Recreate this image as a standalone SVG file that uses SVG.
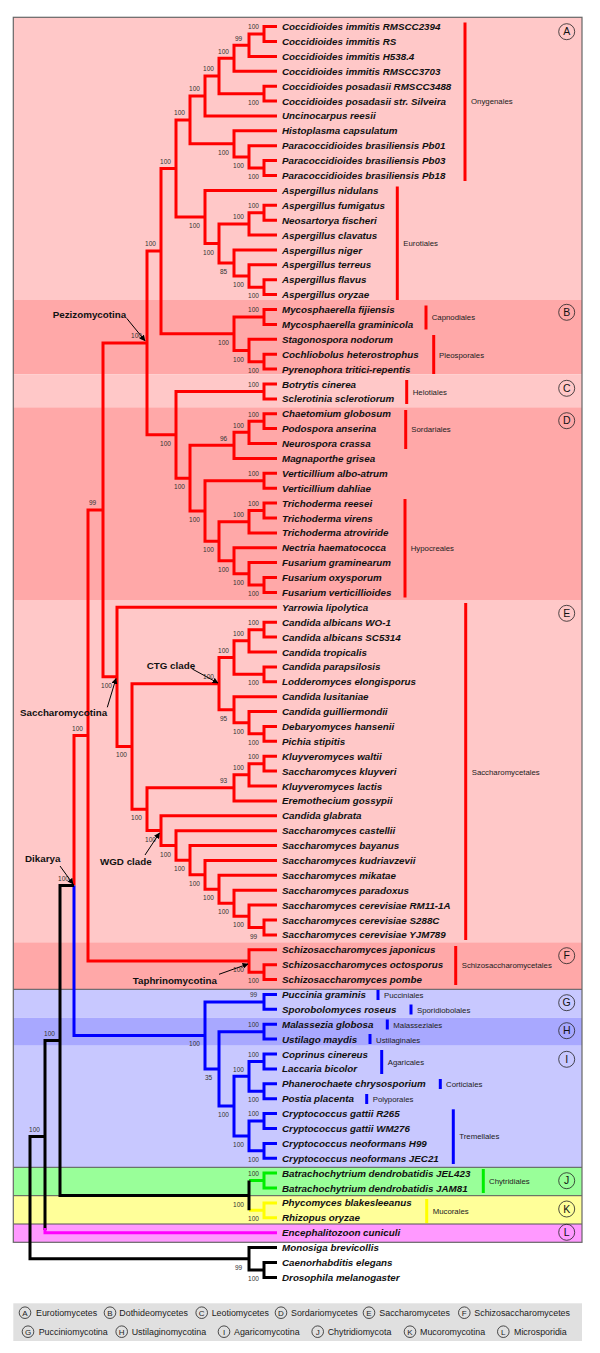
<svg xmlns="http://www.w3.org/2000/svg" width="600" height="1353" viewBox="0 0 600 1353">
<defs>
<style>
.t{font-family:"Liberation Sans",Arial,sans-serif;font-size:9.8px;font-weight:bold;font-style:italic;fill:#111}
.b{font-family:"Liberation Sans",Arial,sans-serif;font-size:6.5px;fill:#333;text-anchor:middle}
.o{font-family:"Liberation Sans",Arial,sans-serif;font-size:7.8px;fill:#222}
.c{font-family:"Liberation Sans",Arial,sans-serif;font-size:9.8px;font-weight:bold;fill:#111}
.lg{font-family:"Liberation Sans",Arial,sans-serif;font-size:8.9px;fill:#222}
.cl{font-family:"Liberation Sans",Arial,sans-serif;font-size:10.5px;fill:#111;text-anchor:middle}
.cs{font-family:"Liberation Sans",Arial,sans-serif;font-size:8px;fill:#222;text-anchor:middle}
.ci{fill:none;stroke:#222;stroke-width:0.8}
.r{fill:none;stroke:#ff0000;stroke-width:3}
.u{fill:none;stroke:#0000ff;stroke-width:3}
.k{fill:none;stroke:#000;stroke-width:3}
.g{fill:none;stroke:#00ee00;stroke-width:3}
.y{fill:none;stroke:#ffff00;stroke-width:3}
.m{fill:none;stroke:#ff00ff;stroke-width:3}
.ar{fill:none;stroke:#000;stroke-width:1;marker-end:url(#ah)}
</style>
<marker id="ah" viewBox="0 0 10 10" refX="9" refY="5" markerWidth="6" markerHeight="6" orient="auto" markerUnits="userSpaceOnUse"><path d="M0,0 L10,5 L0,10 z" fill="#000"/></marker>
</defs>
<rect width="600" height="1353" fill="#fff"/>
<g id="bands">
<rect x="13.3" y="17.3" width="568.7" height="282.7" fill="#ffc8c8"/>
<rect x="13.3" y="300" width="568.7" height="74.3" fill="#ffa8a8"/>
<rect x="13.3" y="374.3" width="568.7" height="33" fill="#ffc8c8"/>
<rect x="13.3" y="407.3" width="568.7" height="192.7" fill="#ffa8a8"/>
<rect x="13.3" y="600" width="568.7" height="342.3" fill="#ffc8c8"/>
<rect x="13.3" y="942.3" width="568.7" height="47" fill="#ffa8a8"/>
<rect x="13.3" y="989.3" width="568.7" height="28.4" fill="#c8c8ff"/>
<rect x="13.3" y="1017.7" width="568.7" height="28" fill="#a8a8ff"/>
<rect x="13.3" y="1045.7" width="568.7" height="121.6" fill="#c8c8ff"/>
<rect x="13.3" y="1167.3" width="568.7" height="28.4" fill="#99ff99"/>
<rect x="13.3" y="1195.7" width="568.7" height="28.3" fill="#ffff99"/>
<rect x="13.3" y="1224" width="568.7" height="18.3" fill="#ff99ff"/>
<g stroke="#555" stroke-width="1">
<line x1="13.3" y1="989.3" x2="582" y2="989.3"/>
<line x1="13.3" y1="1167.3" x2="582" y2="1167.3"/>
<line x1="13.3" y1="1195.7" x2="582" y2="1195.7"/>
<line x1="13.3" y1="1224" x2="582" y2="1224"/>
</g>
<rect x="13.3" y="17.3" width="568.7" height="1225" fill="none" stroke="#666" stroke-width="1.2"/>
<g id="band-labels">
<circle class="ci" cx="566.7" cy="31.7" r="8"/><text class="cl" x="566.7" y="35.4">A</text>
<circle class="ci" cx="566.7" cy="312.3" r="8"/><text class="cl" x="566.7" y="316">B</text>
<circle class="ci" cx="566.7" cy="388.3" r="8"/><text class="cl" x="566.7" y="392">C</text>
<circle class="ci" cx="566.7" cy="420.7" r="8"/><text class="cl" x="566.7" y="424.4">D</text>
<circle class="ci" cx="566.7" cy="613.3" r="8"/><text class="cl" x="566.7" y="617">E</text>
<circle class="ci" cx="566.7" cy="955.7" r="8"/><text class="cl" x="566.7" y="959.4">F</text>
<circle class="ci" cx="566.7" cy="1002.7" r="8"/><text class="cl" x="566.7" y="1006.4">G</text>
<circle class="ci" cx="566.7" cy="1030.7" r="8"/><text class="cl" x="566.7" y="1034.4">H</text>
<circle class="ci" cx="566.7" cy="1059.3" r="8"/><text class="cl" x="566.7" y="1063">I</text>
<circle class="ci" cx="566.7" cy="1180.7" r="8"/><text class="cl" x="566.7" y="1184.4">J</text>
<circle class="ci" cx="566.7" cy="1209" r="8"/><text class="cl" x="566.7" y="1212.7">K</text>
<circle class="ci" cx="566.7" cy="1232.3" r="8"/><text class="cl" x="566.7" y="1236">L</text>
</g>
</g>
<g id="connectors">
<path class="r" d="M277 26.6H264V41.5H277M264 34.05H249V56.4H277M249 45.2H234V71.3H277M277 86.2H264V101.1H277M234 58.3H219V93.65H264M219 76H205V115.9H277M277 160.6H264V175.5H277M277 145.7H249V168.05H264M277 130.8H234V156.9H249M205 95.95H190V143.85H234M277 205.3H264V220.2H277M264 212.75H249V235.1H277M277 279.7H264V294.6H277M277 264.8H249V287.15H264M277 250H234V276H249M249 223.9H219V263H234M277 190.4H205V243.45H219M190 119.9H176V216.9H205"/>
<path class="r" d="M277 309.5H264V324.4H277M277 354.2H264V369.1H277M277 339.3H249V361.65H264M264 316.95H234V350.5H249M176 168.4H161V333.7H234"/>
<path class="r" d="M277 384H264V398.9H277M277 413.7H264V428.6H277M264 421.15H249V443.5H277M249 432.3H234V458.4H277M277 473.3H264V488.2H277M277 503.1H264V518H277M264 510.55H249V532.9H277M277 577.5H264V592.4H277M277 562.6H249V584.95H264M277 547.8H234V573.8H249M249 521.7H219V560.8H234M264 480.75H205V541.25H219M234 445.35H190V511H205M264 391.45H176V478.2H190M161 251.05H147V434.8H176"/>
<path class="r" d="M277 622.2H264V637.1H277M264 629.65H249V652H277M277 666.9H264V681.8H277M249 640.8H234V674.35H264M277 726.4H264V741.3H277M277 711.5H249V733.85H264M277 696.7H234V722.7H249M234 657.6H219V709.7H234M277 756.2H264V771.1H277M264 763.65H249V786H277M249 774.8H234V800.9H277"/>
<path class="r" d="M277 920H264V934.9H277M277 905.1H249V927.45H264M277 890.2H234V916.3H249M277 875.3H219V903.25H234M277 860.4H205V889.3H219M277 845.6H190V874.85H205M277 830.7H176V860.2H190M277 815.8H161V845.45H176M234 787.85H147V830.6H161M219 683.65H132V809.2H147M277 607.3H117V746.4H132M147 342.9H103V676.85H117"/>
<path class="r" d="M277 964.7H264V979.6H277M277 949.8H249V972.15H264M103 509.9H88V960.95H249M88 735.4H74V885.4"/>
<path class="u" d="M74 885.4V1035.4H205M277 994.5H264V1009.3H277M277 1024.2H264V1039.1H277M277 1054H264V1068.9H277M277 1083.8H264V1098.7H277M264 1061.45H249V1091.25H264M277 1113.6H264V1128.5H277M277 1143.4H264V1158.2H277M264 1121.05H249V1150.8H264M249 1076.35H234V1135.9H249M264 1031.65H219V1106.1H234M264 1001.9H205V1068.9H219"/>
<path class="g" d="M249 1180.55H264M277 1173.1H264V1188H277"/>
<path class="y" d="M249 1210.35H264M277 1202.9H264V1217.8H277"/>
<path class="k" d="M74 885.4H60V1195.45H249M249 1180.55V1210.35M60 1040.4H45V1230M45 1136.55H30V1258.8H249M277 1247.6H249V1269.95H264M277 1262.5H264V1277.4H277"/>
<path class="m" d="M45 1228V1232.7H277"/>
</g>
<g id="support">
<text class="b" x="253.5" y="29.4">100</text>
<text class="b" x="238.5" y="40.5">99</text>
<text class="b" x="223.5" y="53.6">100</text>
<text class="b" x="253.5" y="104.7">100</text>
<text class="b" x="208.5" y="71.3">100</text>
<text class="b" x="194.5" y="91.3">100</text>
<text class="b" x="253.5" y="179.1">100</text>
<text class="b" x="238.5" y="167.9">100</text>
<text class="b" x="223.5" y="154.9">100</text>
<text class="b" x="179.5" y="115.2">100</text>
<text class="b" x="253.5" y="208.1">100</text>
<text class="b" x="238.5" y="219.2">100</text>
<text class="b" x="253.5" y="298.2">100</text>
<text class="b" x="238.5" y="287">100</text>
<text class="b" x="223.5" y="274">85</text>
<text class="b" x="208.5" y="254.5">100</text>
<text class="b" x="194.5" y="227.9">100</text>
<text class="b" x="165.5" y="163.7">100</text>
<text class="b" x="253.5" y="312.3">100</text>
<text class="b" x="253.5" y="372.7">100</text>
<text class="b" x="238.5" y="361.5">100</text>
<text class="b" x="223.5" y="344.7">100</text>
<text class="b" x="150.5" y="246.4">100</text>
<text class="b" x="253.5" y="386.8">100</text>
<text class="b" x="253.5" y="416.5">100</text>
<text class="b" x="238.5" y="427.6">100</text>
<text class="b" x="223.5" y="440.7">96</text>
<text class="b" x="253.5" y="476.1">100</text>
<text class="b" x="253.5" y="505.9">100</text>
<text class="b" x="238.5" y="517">100</text>
<text class="b" x="253.5" y="596">100</text>
<text class="b" x="238.5" y="584.8">100</text>
<text class="b" x="223.5" y="571.8">100</text>
<text class="b" x="208.5" y="552.3">100</text>
<text class="b" x="194.5" y="522">100</text>
<text class="b" x="179.5" y="489.2">100</text>
<text class="b" x="165.5" y="445.8">100</text>
<text class="b" x="136.5" y="338.2">100</text>
<text class="b" x="253.5" y="625">100</text>
<text class="b" x="238.5" y="636.1">100</text>
<text class="b" x="253.5" y="685.4">100</text>
<text class="b" x="223.5" y="652.9">100</text>
<text class="b" x="253.5" y="744.9">100</text>
<text class="b" x="238.5" y="733.7">100</text>
<text class="b" x="223.5" y="720.7">95</text>
<text class="b" x="208.5" y="679">100</text>
<text class="b" x="253.5" y="759">100</text>
<text class="b" x="238.5" y="770.1">100</text>
<text class="b" x="223.5" y="783.2">93</text>
<text class="b" x="253.5" y="938.5">99</text>
<text class="b" x="238.5" y="927.3">100</text>
<text class="b" x="223.5" y="914.3">100</text>
<text class="b" x="208.5" y="900.3">100</text>
<text class="b" x="194.5" y="885.9">100</text>
<text class="b" x="179.5" y="871.2">100</text>
<text class="b" x="165.5" y="856.5">100</text>
<text class="b" x="150.5" y="841.6">100</text>
<text class="b" x="136.5" y="820.2">100</text>
<text class="b" x="121.5" y="757.4">100</text>
<text class="b" x="106.5" y="687.9">100</text>
<text class="b" x="92.5" y="505.2">99</text>
<text class="b" x="253.5" y="983.2">100</text>
<text class="b" x="238.5" y="972">100</text>
<text class="b" x="77.5" y="730.7">100</text>
<text class="b" x="253.5" y="997.2">99</text>
<text class="b" x="253.5" y="1027">100</text>
<text class="b" x="253.5" y="1056.8">100</text>
<text class="b" x="253.5" y="1102.3">100</text>
<text class="b" x="238.5" y="1071.7">100</text>
<text class="b" x="253.5" y="1116.4">100</text>
<text class="b" x="253.5" y="1161.8">100</text>
<text class="b" x="238.5" y="1146.9">100</text>
<text class="b" x="223.5" y="1117.1">100</text>
<text class="b" x="208.5" y="1079.9">35</text>
<text class="b" x="194.5" y="1046.4">100</text>
<text class="b" x="63.5" y="880.7">100</text>
<text class="b" x="253.5" y="1175.9">100</text>
<text class="b" x="253.5" y="1221.4">100</text>
<text class="b" x="238.5" y="1206.5">100</text>
<text class="b" x="49.5" y="1035.7">100</text>
<text class="b" x="34.5" y="1131.9">100</text>
<text class="b" x="253.5" y="1281">100</text>
<text class="b" x="238.5" y="1269.8">99</text>
</g>
<g id="clade-labels">
<g id="pezizomycotina"><text class="c" x="52.7" y="317.5">Pezizomycotina</text><path class="ar" d="M126.7 318.3L145 340.7"/></g>
<g id="saccharomycotina"><text class="c" x="20" y="715.8">Saccharomycotina</text><path class="ar" d="M107.3 707.3L116 678.5"/></g>
<g id="ctg"><text class="c" x="146.7" y="668.5">CTG clade</text><path class="ar" d="M192.3 669L218 683"/></g>
<g id="wgd"><text class="c" x="100" y="865.2">WGD clade</text><path class="ar" d="M145 855L159.5 833"/></g>
<g id="dikarya"><text class="c" x="25" y="861.8">Dikarya</text><path class="ar" d="M60 866L73 884"/></g>
<g id="taphrinomycotina"><text class="c" x="132.7" y="983.5">Taphrinomycotina</text><path class="ar" d="M219 974.3L248 964"/></g>
</g>
<g id="taxa">
<g id="taxon-0"><text class="t" x="282" y="30.1">Coccidioides immitis RMSCC2394</text></g>
<g id="taxon-1"><text class="t" x="282" y="45">Coccidioides immitis RS</text></g>
<g id="taxon-2"><text class="t" x="282" y="59.9">Coccidioides immitis H538.4</text></g>
<g id="taxon-3"><text class="t" x="282" y="74.8">Coccidioides immitis RMSCC3703</text></g>
<g id="taxon-4"><text class="t" x="282" y="89.7">Coccidioides posadasii RMSCC3488</text></g>
<g id="taxon-5"><text class="t" x="282" y="104.6">Coccidioides posadasii str. Silveira</text></g>
<g id="taxon-6"><text class="t" x="282" y="119.4">Uncinocarpus reesii</text></g>
<g id="taxon-7"><text class="t" x="282" y="134.3">Histoplasma capsulatum</text></g>
<g id="taxon-8"><text class="t" x="282" y="149.2">Paracoccidioides brasiliensis Pb01</text></g>
<g id="taxon-9"><text class="t" x="282" y="164.1">Paracoccidioides brasiliensis Pb03</text></g>
<g id="taxon-10"><text class="t" x="282" y="179">Paracoccidioides brasiliensis Pb18</text></g>
<g id="taxon-11"><text class="t" x="282" y="193.9">Aspergillus nidulans</text></g>
<g id="taxon-12"><text class="t" x="282" y="208.8">Aspergillus fumigatus</text></g>
<g id="taxon-13"><text class="t" x="282" y="223.7">Neosartorya fischeri</text></g>
<g id="taxon-14"><text class="t" x="282" y="238.6">Aspergillus clavatus</text></g>
<g id="taxon-15"><text class="t" x="282" y="253.5">Aspergillus niger</text></g>
<g id="taxon-16"><text class="t" x="282" y="268.3">Aspergillus terreus</text></g>
<g id="taxon-17"><text class="t" x="282" y="283.2">Aspergillus flavus</text></g>
<g id="taxon-18"><text class="t" x="282" y="298.1">Aspergillus oryzae</text></g>
<g id="taxon-19"><text class="t" x="282" y="313">Mycosphaerella fijiensis</text></g>
<g id="taxon-20"><text class="t" x="282" y="327.9">Mycosphaerella graminicola</text></g>
<g id="taxon-21"><text class="t" x="282" y="342.8">Stagonospora nodorum</text></g>
<g id="taxon-22"><text class="t" x="282" y="357.7">Cochliobolus heterostrophus</text></g>
<g id="taxon-23"><text class="t" x="282" y="372.6">Pyrenophora tritici-repentis</text></g>
<g id="taxon-24"><text class="t" x="282" y="387.5">Botrytis cinerea</text></g>
<g id="taxon-25"><text class="t" x="282" y="402.4">Sclerotinia sclerotiorum</text></g>
<g id="taxon-26"><text class="t" x="282" y="417.2">Chaetomium globosum</text></g>
<g id="taxon-27"><text class="t" x="282" y="432.1">Podospora anserina</text></g>
<g id="taxon-28"><text class="t" x="282" y="447">Neurospora crassa</text></g>
<g id="taxon-29"><text class="t" x="282" y="461.9">Magnaporthe grisea</text></g>
<g id="taxon-30"><text class="t" x="282" y="476.8">Verticillium albo-atrum</text></g>
<g id="taxon-31"><text class="t" x="282" y="491.7">Verticillium dahliae</text></g>
<g id="taxon-32"><text class="t" x="282" y="506.6">Trichoderma reesei</text></g>
<g id="taxon-33"><text class="t" x="282" y="521.5">Trichoderma virens</text></g>
<g id="taxon-34"><text class="t" x="282" y="536.4">Trichoderma atroviride</text></g>
<g id="taxon-35"><text class="t" x="282" y="551.3">Nectria haematococca</text></g>
<g id="taxon-36"><text class="t" x="282" y="566.1">Fusarium graminearum</text></g>
<g id="taxon-37"><text class="t" x="282" y="581">Fusarium oxysporum</text></g>
<g id="taxon-38"><text class="t" x="282" y="595.9">Fusarium verticillioides</text></g>
<g id="taxon-39"><text class="t" x="282" y="610.8">Yarrowia lipolytica</text></g>
<g id="taxon-40"><text class="t" x="282" y="625.7">Candida albicans WO-1</text></g>
<g id="taxon-41"><text class="t" x="282" y="640.6">Candida albicans SC5314</text></g>
<g id="taxon-42"><text class="t" x="282" y="655.5">Candida tropicalis</text></g>
<g id="taxon-43"><text class="t" x="282" y="670.4">Candida parapsilosis</text></g>
<g id="taxon-44"><text class="t" x="282" y="685.3">Lodderomyces elongisporus</text></g>
<g id="taxon-45"><text class="t" x="282" y="700.2">Candida lusitaniae</text></g>
<g id="taxon-46"><text class="t" x="282" y="715">Candida guilliermondii</text></g>
<g id="taxon-47"><text class="t" x="282" y="729.9">Debaryomyces hansenii</text></g>
<g id="taxon-48"><text class="t" x="282" y="744.8">Pichia stipitis</text></g>
<g id="taxon-49"><text class="t" x="282" y="759.7">Kluyveromyces waltii</text></g>
<g id="taxon-50"><text class="t" x="282" y="774.6">Saccharomyces kluyveri</text></g>
<g id="taxon-51"><text class="t" x="282" y="789.5">Kluyveromyces lactis</text></g>
<g id="taxon-52"><text class="t" x="282" y="804.4">Eremothecium gossypii</text></g>
<g id="taxon-53"><text class="t" x="282" y="819.3">Candida glabrata</text></g>
<g id="taxon-54"><text class="t" x="282" y="834.2">Saccharomyces castellii</text></g>
<g id="taxon-55"><text class="t" x="282" y="849.1">Saccharomyces bayanus</text></g>
<g id="taxon-56"><text class="t" x="282" y="863.9">Saccharomyces kudriavzevii</text></g>
<g id="taxon-57"><text class="t" x="282" y="878.8">Saccharomyces mikatae</text></g>
<g id="taxon-58"><text class="t" x="282" y="893.7">Saccharomyces paradoxus</text></g>
<g id="taxon-59"><text class="t" x="282" y="908.6">Saccharomyces cerevisiae RM11-1A</text></g>
<g id="taxon-60"><text class="t" x="282" y="923.5">Saccharomyces cerevisiae S288C</text></g>
<g id="taxon-61"><text class="t" x="282" y="938.4">Saccharomyces cerevisiae YJM789</text></g>
<g id="taxon-62"><text class="t" x="282" y="953.3">Schizosaccharomyces japonicus</text></g>
<g id="taxon-63"><text class="t" x="282" y="968.2">Schizosaccharomyces octosporus</text></g>
<g id="taxon-64"><text class="t" x="282" y="983.1">Schizosaccharomyces pombe</text></g>
<g id="taxon-65"><text class="t" x="282" y="998">Puccinia graminis</text></g>
<g id="taxon-66"><text class="t" x="282" y="1012.8">Sporobolomyces roseus</text></g>
<g id="taxon-67"><text class="t" x="282" y="1027.7">Malassezia globosa</text></g>
<g id="taxon-68"><text class="t" x="282" y="1042.6">Ustilago maydis</text></g>
<g id="taxon-69"><text class="t" x="282" y="1057.5">Coprinus cinereus</text></g>
<g id="taxon-70"><text class="t" x="282" y="1072.4">Laccaria bicolor</text></g>
<g id="taxon-71"><text class="t" x="282" y="1087.3">Phanerochaete chrysosporium</text></g>
<g id="taxon-72"><text class="t" x="282" y="1102.2">Postia placenta</text></g>
<g id="taxon-73"><text class="t" x="282" y="1117.1">Cryptococcus gattii R265</text></g>
<g id="taxon-74"><text class="t" x="282" y="1132">Cryptococcus gattii WM276</text></g>
<g id="taxon-75"><text class="t" x="282" y="1146.9">Cryptococcus neoformans H99</text></g>
<g id="taxon-76"><text class="t" x="282" y="1161.7">Cryptococcus neoformans JEC21</text></g>
<g id="taxon-77"><text class="t" x="282" y="1176.6">Batrachochytrium dendrobatidis JEL423</text></g>
<g id="taxon-78"><text class="t" x="282" y="1191.5">Batrachochytrium dendrobatidis JAM81</text></g>
<g id="taxon-79"><text class="t" x="282" y="1206.4">Phycomyces blakesleeanus</text></g>
<g id="taxon-80"><text class="t" x="282" y="1221.3">Rhizopus oryzae</text></g>
<g id="taxon-81"><text class="t" x="282" y="1236.2">Encephalitozoon cuniculi</text></g>
<g id="taxon-82"><text class="t" x="282" y="1251.1">Monosiga brevicollis</text></g>
<g id="taxon-83"><text class="t" x="282" y="1266">Caenorhabditis elegans</text></g>
<g id="taxon-84"><text class="t" x="282" y="1280.9">Drosophila melanogaster</text></g>
</g>
<g id="orders">
<g stroke-width="3">
<line x1="465" y1="22.5" x2="465" y2="181" stroke="#f00"/>
<line x1="397.3" y1="186.5" x2="397.3" y2="300" stroke="#f00"/>
<line x1="426" y1="305.5" x2="426" y2="329.5" stroke="#f00"/>
<line x1="433.7" y1="335" x2="433.7" y2="374" stroke="#f00"/>
<line x1="406.7" y1="380" x2="406.7" y2="404" stroke="#f00"/>
<line x1="405.7" y1="410" x2="405.7" y2="449" stroke="#f00"/>
<line x1="405" y1="499" x2="405" y2="597.5" stroke="#f00"/>
<line x1="465.7" y1="603" x2="465.7" y2="940" stroke="#f00"/>
<line x1="455.7" y1="946" x2="455.7" y2="985" stroke="#f00"/>
<line x1="378" y1="990" x2="378" y2="1000" stroke="#00f"/>
<line x1="411" y1="1004.5" x2="411" y2="1014.5" stroke="#00f"/>
<line x1="387.3" y1="1019.5" x2="387.3" y2="1029.5" stroke="#00f"/>
<line x1="370" y1="1034" x2="370" y2="1044" stroke="#00f"/>
<line x1="381.7" y1="1050" x2="381.7" y2="1074" stroke="#00f"/>
<line x1="440.3" y1="1079" x2="440.3" y2="1089" stroke="#00f"/>
<line x1="366.7" y1="1094" x2="366.7" y2="1104" stroke="#00f"/>
<line x1="453.3" y1="1109.3" x2="453.3" y2="1164" stroke="#00f"/>
<line x1="483.3" y1="1169" x2="483.3" y2="1193" stroke="#00ee00"/>
<line x1="426.7" y1="1199" x2="426.7" y2="1223" stroke="#ffff00"/>
</g>
<text class="o" x="471" y="103.8">Onygenales</text>
<text class="o" x="403.3" y="245.5">Eurotiales</text>
<text class="o" x="431.7" y="319.8">Capnodiales</text>
<text class="o" x="439" y="357.5">Pleosporales</text>
<text class="o" x="412.7" y="394.5">Helotiales</text>
<text class="o" x="411.3" y="431.8">Sordariales</text>
<text class="o" x="410.7" y="551.1">Hypocreales</text>
<text class="o" x="471.7" y="774.5">Saccharomycetales</text>
<text class="o" x="461.7" y="967.8">Schizosaccharomycetales</text>
<text class="o" x="384" y="997.8">Pucciniales</text>
<text class="o" x="417" y="1012.8">Sporidiobolales</text>
<text class="o" x="393.3" y="1027.5">Malasseziales</text>
<text class="o" x="376" y="1042.5">Ustilaginales</text>
<text class="o" x="387.7" y="1065.1">Agaricales</text>
<text class="o" x="446" y="1087.1">Corticiales</text>
<text class="o" x="372.7" y="1102.1">Polyporales</text>
<text class="o" x="459.3" y="1139.1">Tremellales</text>
<text class="o" x="489" y="1184.1">Chytridiales</text>
<text class="o" x="432.7" y="1213.8">Mucorales</text>
</g>
<g id="legend">
<rect x="13.3" y="1303.3" width="568.7" height="37.7" fill="#e0e0e0"/>
<circle class="ci" cx="25" cy="1312.7" r="5.8"/><text class="cs" x="25" y="1315.6">A</text><text class="lg" x="36" y="1315.9">Eurotiomycetes</text>
<circle class="ci" cx="110" cy="1312.7" r="5.8"/><text class="cs" x="110" y="1315.6">B</text><text class="lg" x="119.3" y="1315.9">Dothideomycetes</text>
<circle class="ci" cx="201.7" cy="1312.7" r="5.8"/><text class="cs" x="201.7" y="1315.6">C</text><text class="lg" x="211.7" y="1315.9">Leotiomycetes</text>
<circle class="ci" cx="281" cy="1312.7" r="5.8"/><text class="cs" x="281" y="1315.6">D</text><text class="lg" x="291" y="1315.9">Sordariomycetes</text>
<circle class="ci" cx="369" cy="1312.7" r="5.8"/><text class="cs" x="369" y="1315.6">E</text><text class="lg" x="379.3" y="1315.9">Saccharomycetes</text>
<circle class="ci" cx="464.3" cy="1312.7" r="5.8"/><text class="cs" x="464.3" y="1315.6">F</text><text class="lg" x="474.3" y="1315.9">Schizosaccharomycetes</text>
<circle class="ci" cx="28" cy="1331.7" r="5.8"/><text class="cs" x="28" y="1334.6">G</text><text class="lg" x="38.7" y="1334.9">Pucciniomycotina</text>
<circle class="ci" cx="121.7" cy="1331.7" r="5.8"/><text class="cs" x="121.7" y="1334.6">H</text><text class="lg" x="131.7" y="1334.9">Ustilaginomycotina</text>
<circle class="ci" cx="224" cy="1331.7" r="5.8"/><text class="cs" x="224" y="1334.6">I</text><text class="lg" x="234" y="1334.9">Agaricomycotina</text>
<circle class="ci" cx="317.7" cy="1331.7" r="5.8"/><text class="cs" x="317.7" y="1334.6">J</text><text class="lg" x="327.7" y="1334.9">Chytridiomycota</text>
<circle class="ci" cx="410" cy="1331.7" r="5.8"/><text class="cs" x="410" y="1334.6">K</text><text class="lg" x="420" y="1334.9">Mucoromycotina</text>
<circle class="ci" cx="503.3" cy="1331.7" r="5.8"/><text class="cs" x="503.3" y="1334.6">L</text><text class="lg" x="514" y="1334.9">Microsporidia</text>
</g>
</svg>
